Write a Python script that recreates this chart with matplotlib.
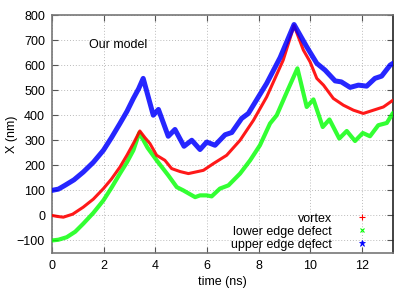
import matplotlib
matplotlib.use("Agg")
import matplotlib.pyplot as plt
from matplotlib.lines import Line2D

plt.rcParams['font.family'] = ['Liberation Sans', 'DejaVu Sans']

# vortex (red)
t_vortex = [0.0, 0.2, 0.44, 0.8, 1.21, 1.6, 1.99, 2.3, 2.63, 2.9, 3.15, 3.40, 3.6, 3.79, 4.05,
            4.37, 4.63, 4.96, 5.28, 5.86, 6.25, 6.76, 7.28, 7.80, 8.31, 8.95, 9.37, 9.73,
            9.99, 10.25, 10.51, 10.89, 11.28, 11.67, 12.05, 12.44, 12.83, 13.2]
x_vortex = [0, -4, -7, 5, 33, 65, 107, 145, 193, 240, 287, 337, 310, 287, 240,
            220, 187, 175, 167, 180, 207, 240, 300, 380, 473, 620, 758, 660,
            613, 547, 520, 467, 440, 420, 407, 420, 433, 460]

# lower edge defect (green)
t_lower = [0.0, 0.25, 0.57, 0.9, 1.21, 1.6, 1.99, 2.3, 2.63, 2.9, 3.15, 3.38, 3.7, 4.05,
           4.50, 4.83, 5.08, 5.54, 5.73, 5.99, 6.18, 6.50, 6.83, 7.28, 7.67, 8.05, 8.44,
           8.70, 9.11, 9.50, 9.86, 10.12, 10.48, 10.74, 11.12, 11.41, 11.73, 12.03, 12.31,
           12.63, 12.96, 13.2]
x_lower = [-100, -97, -87, -65, -33, 10, 60, 110, 167, 212, 260, 330, 270, 220,
           160, 113, 100, 73, 80, 80, 76, 107, 120, 167, 220, 280, 367,
           400, 497, 587, 433, 463, 353, 383, 307, 337, 297, 329, 316,
           360, 369, 409]

# upper edge defect (blue)
t_upper = [0.0, 0.25, 0.5, 0.85, 1.21, 1.6, 1.99, 2.3, 2.63, 2.9, 3.15, 3.35, 3.53, 3.92,
           4.12, 4.50, 4.76, 5.11, 5.41, 5.73, 5.99, 6.31, 6.70, 6.96, 7.34, 7.60, 7.99,
           8.31, 8.83, 9.37, 9.86, 10.25, 10.57, 10.96, 11.20, 11.54, 11.86, 12.18, 12.50,
           12.76, 13.09, 13.2]
x_upper = [100, 105, 120, 142, 173, 212, 260, 310, 367, 415, 467, 505, 547, 400,
           423, 316, 343, 276, 300, 263, 293, 280, 322, 331, 387, 407, 473,
           527, 630, 762, 673, 607, 580, 537, 533, 511, 520, 516, 547,
           556, 600, 607]

xticks = [0, 2, 4, 6, 8, 10, 12]
yticks = [-100, 0, 100, 200, 300, 400, 500, 600, 700, 800]

fig = plt.figure(figsize=(4.15, 2.91), dpi=100)
ax = fig.add_axes([52/415, 1-253/291, (393-52)/415, (253-15)/291])

c_red, c_green, c_blue = '#ff0000', '#00ff00', '#0000ff'
ax.plot(t_lower, x_lower, color=c_green, lw=3.0, alpha=0.8, solid_capstyle='round',
        solid_joinstyle='round', zorder=3)
ax.plot(t_vortex, x_vortex, color=c_red, lw=2.2, alpha=0.9, solid_capstyle='round',
        solid_joinstyle='round', zorder=4)
ax.plot(t_upper, x_upper, color=c_blue, lw=3.6, alpha=0.85, solid_capstyle='round',
        solid_joinstyle='round', zorder=5)

ax.set_xlim(0, 13.2)
ax.set_ylim(-150, 800)
ax.set_xticks(xticks)
ax.set_yticks(yticks)
ax.tick_params(direction='in', top=True, right=True, labelsize=9, length=4,
               color='#555555', pad=5)
ax.grid(True, color='#bbbbbb', linestyle=(0, (1, 2)), linewidth=0.7)
for s in ax.spines.values():
    s.set_color('#777777')
    s.set_linewidth(1.2)
ax.spines['right'].set_color('#222222')

ax.set_xlabel('time (ns)', fontsize=9, labelpad=3)
ax.set_ylabel('X (nm)', fontsize=9, labelpad=-1)
ax.text(2.55, 680, 'Our model', fontsize=9, ha='center', va='center')

handles = [Line2D([], [], color=c_red, marker='+', ls='none', markersize=4, markeredgewidth=0.8),
           Line2D([], [], color=c_green, marker='x', ls='none', markersize=3.5, markeredgewidth=0.8),
           Line2D([], [], color=c_blue, marker='*', ls='none', markersize=4.5, markeredgewidth=0.5)]
leg = ax.legend(handles, ['vortex', 'lower edge defect', 'upper edge defect'],
                loc='lower right', bbox_to_anchor=(0.955, -0.025), markerfirst=False,
                frameon=False, fontsize=9, handlelength=1.2, handletextpad=1.8,
                labelspacing=0.08, borderaxespad=0.25)
for txt in leg.get_texts():
    txt.set_ha('right')
leg._legend_box.align = 'right'
leg.set_zorder(6)

fig.savefig('out.png', dpi=100)
